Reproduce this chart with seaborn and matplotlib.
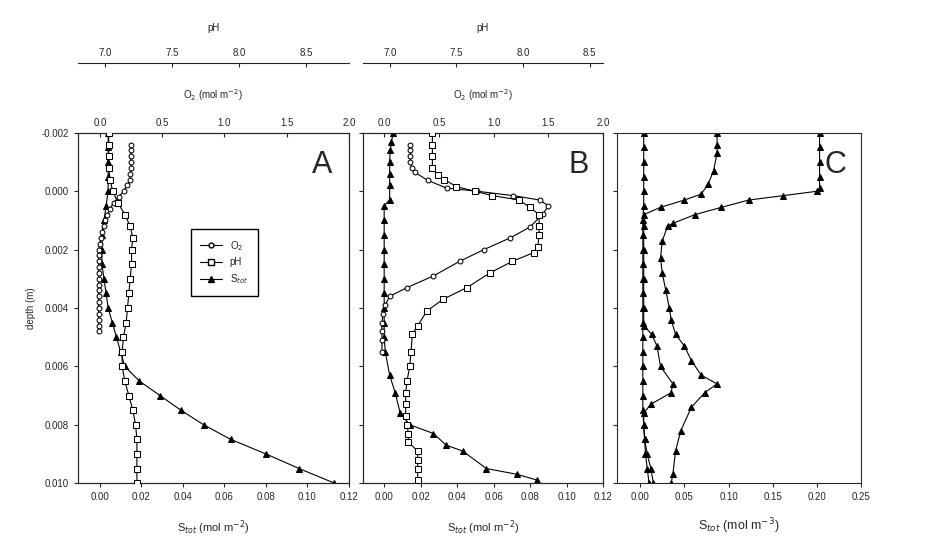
import matplotlib
matplotlib.use('Agg')
import matplotlib.pyplot as plt
from matplotlib.lines import Line2D
from matplotlib.ticker import FormatStrFormatter
import seaborn as sns

sns.set_style('ticks')
plt.rcParams['font.family'] = ['Liberation Sans', 'DejaVu Sans']

# ---- panel A ----
a_o2_depth = [-0.0016, -0.0014, -0.0012, -0.001, -0.0008, -0.0006, -0.0004, -0.0002, 0.0, 0.0002,
              0.0004, 0.0006, 0.0008, 0.001, 0.0012, 0.0014, 0.0016, 0.0018, 0.002, 0.0022,
              0.0024, 0.0026, 0.0028, 0.003, 0.0032, 0.0034, 0.0036, 0.0038, 0.004, 0.0042,
              0.0044, 0.0046, 0.0048]
a_o2 = [0.25, 0.25, 0.25, 0.25, 0.25, 0.245, 0.24, 0.22, 0.19, 0.15,
        0.11, 0.08, 0.06, 0.04, 0.03, 0.02, 0.01, 0.0, -0.01, -0.01,
        -0.01, -0.01, -0.01, -0.01, -0.01, -0.01, -0.01, -0.01, -0.01, -0.01,
        -0.01, -0.01, -0.01]
a_ph_depth = [-0.002, -0.0016, -0.0012, -0.0008, -0.0004, 0.0, 0.0004, 0.0008, 0.0012, 0.0016,
              0.002, 0.0025, 0.003, 0.0035, 0.004, 0.0045, 0.005, 0.0055, 0.006, 0.0065,
              0.007, 0.0075, 0.008, 0.0085, 0.009, 0.0095, 0.010]
a_ph = [7.03, 7.03, 7.03, 7.03, 7.04, 7.06, 7.10, 7.15, 7.19, 7.21,
        7.20, 7.20, 7.19, 7.18, 7.17, 7.16, 7.14, 7.13, 7.13, 7.15,
        7.18, 7.21, 7.23, 7.24, 7.24, 7.24, 7.24]
a_s_depth = [-0.002, -0.0015, -0.001, -0.0005, 0.0, 0.0005, 0.001, 0.0015, 0.002, 0.0025,
             0.003, 0.0035, 0.004, 0.0045, 0.005, 0.0055, 0.006, 0.0065, 0.007, 0.0075,
             0.008, 0.0085, 0.009, 0.0095, 0.010]
a_s = [0.004, 0.004, 0.004, 0.004, 0.004, 0.003, 0.002, 0.001, 0.001, 0.001,
       0.002, 0.003, 0.004, 0.006, 0.008, 0.010, 0.012, 0.019, 0.029, 0.039,
       0.050, 0.063, 0.080, 0.096, 0.113]

# ---- panel B ----
b_o2_depth = [-0.0016, -0.0014, -0.0012, -0.001, -0.0008, -0.00065, -0.00037, -0.00011, 0.0, 0.00015,
              0.0003, 0.0005, 0.00078, 0.00123, 0.0016, 0.002, 0.0024, 0.0029, 0.0033, 0.0036,
              0.0039, 0.0042, 0.0045, 0.0048, 0.0051, 0.0055]
b_o2 = [0.24, 0.24, 0.24, 0.24, 0.25, 0.28, 0.40, 0.57, 0.85, 1.18,
        1.42, 1.50, 1.45, 1.33, 1.15, 0.91, 0.69, 0.45, 0.21, 0.05,
        0.01, -0.01, -0.02, -0.02, -0.02, -0.02]
b_ph_depth = [-0.002, -0.0016, -0.0012, -0.0008, -0.00054, -0.0004, -0.00016, 0.0, 0.00015, 0.0003,
              0.00055, 0.0008, 0.0012, 0.0015, 0.0019, 0.0021, 0.0024, 0.0028, 0.0033, 0.0037,
              0.0041, 0.0046, 0.0049, 0.0055, 0.006, 0.0065, 0.0069, 0.0073, 0.0077, 0.008,
              0.0083, 0.0086, 0.0089, 0.0092, 0.0095, 0.0099]
b_ph = [7.32, 7.32, 7.32, 7.32, 7.36, 7.41, 7.50, 7.64, 7.77, 7.97,
        8.05, 8.12, 8.12, 8.12, 8.11, 8.08, 7.92, 7.75, 7.58, 7.40,
        7.28, 7.21, 7.17, 7.16, 7.15, 7.13, 7.12, 7.12, 7.12, 7.13,
        7.14, 7.14, 7.21, 7.21, 7.21, 7.21]
b_s_depth = [-0.002, -0.0017, -0.0014, -0.001, -0.0006, -0.0002, 0.0003, 0.0005, 0.001, 0.0015,
             0.002, 0.0025, 0.003, 0.0035, 0.004, 0.0045, 0.005, 0.0055, 0.0063, 0.0069,
             0.0076, 0.008, 0.0083, 0.0087, 0.0089, 0.0095, 0.0097, 0.0099]
b_s = [0.005, 0.004, 0.0033, 0.003, 0.003, 0.003, 0.003, 0.0, 0.0, 0.0,
       0.0, 0.0, 0.0, 0.0, 0.0, 0.0, 0.0, 0.0006, 0.003, 0.006,
       0.0088, 0.014, 0.027, 0.034, 0.043, 0.056, 0.073, 0.084]

# ---- panel C ----
c1_depth = [-0.002, -0.0015, -0.001, -0.0005, 0.0, 0.0005, 0.001, 0.0015, 0.002, 0.0025,
            0.003, 0.0035, 0.004, 0.0045, 0.005, 0.0055, 0.006, 0.0065, 0.007, 0.0075,
            0.008, 0.0085, 0.009, 0.0095, 0.010]
c1_s = [0.004, 0.004, 0.004, 0.004, 0.004, 0.004, 0.003, 0.003, 0.003, 0.003,
        0.003, 0.003, 0.003, 0.003, 0.003, 0.003, 0.003, 0.003, 0.003, 0.003,
        0.004, 0.005, 0.008, 0.012, 0.015]
c2_depth = [-0.002, -0.0016, -0.0013, -0.0007, -0.00025, 0.0001, 0.0003, 0.00055, 0.0008, 0.0012,
            0.002, 0.003, 0.004, 0.0046, 0.0049, 0.0053, 0.006, 0.0066, 0.0069, 0.0073,
            0.0076, 0.008, 0.0085, 0.009, 0.0095, 0.010]
c2_s = [0.087, 0.087, 0.087, 0.083, 0.077, 0.069, 0.050, 0.023, 0.004, 0.004,
        0.004, 0.004, 0.004, 0.004, 0.013, 0.019, 0.023, 0.037, 0.035, 0.012,
        0.004, 0.004, 0.005, 0.006, 0.008, 0.010]
c3_depth = [-0.002, -0.0015, -0.001, -0.0005, -0.0001, 0.0, 0.00015, 0.0003, 0.00055, 0.0008,
            0.0011, 0.0012, 0.0017, 0.0023, 0.0028, 0.0034, 0.004, 0.0044, 0.0049, 0.0053,
            0.0058, 0.0063, 0.0066, 0.0069, 0.0074, 0.0082, 0.0089, 0.0097, 0.010]
c3_s = [0.203, 0.203, 0.203, 0.203, 0.203, 0.200, 0.162, 0.123, 0.092, 0.062,
        0.037, 0.031, 0.025, 0.023, 0.025, 0.029, 0.033, 0.035, 0.040, 0.050,
        0.058, 0.069, 0.087, 0.073, 0.058, 0.046, 0.040, 0.037, 0.035]

circ = dict(marker='o', markerfacecolor='white', markeredgecolor='black', markersize=3.5)
sq = dict(marker='s', markerfacecolor='white', markeredgecolor='black', markersize=5)
tri = dict(marker='^', markerfacecolor='black', markeredgecolor='black', markersize=5)


def prof(ax, x, y, style):
    sns.lineplot(x=x, y=y, ax=ax, sort=False, estimator=None, orient='y',
                 color='black', linewidth=0.8, **style)


fs = 7
fig = plt.figure(figsize=(9.38, 5.38), dpi=100)
axA = fig.add_axes([0.083, 0.102, 0.289, 0.651])
axB = fig.add_axes([0.387, 0.102, 0.256, 0.651])
axC = fig.add_axes([0.658, 0.102, 0.260, 0.651])

twins = {}
for ax, o2l, phl in [(axA, (-0.177, 2.0), (6.8, 8.82)), (axB, (-0.193, 2.0), (6.8, 8.6))]:
    twins[ax] = (ax.twiny(), ax.twiny())

# panel A
prof(twins[axA][0], a_o2, a_o2_depth, circ)
prof(twins[axA][1], a_ph, a_ph_depth, sq)
prof(axA, a_s, a_s_depth, tri)
# panel B
prof(twins[axB][0], b_o2, b_o2_depth, circ)
prof(twins[axB][1], b_ph, b_ph_depth, sq)
prof(axB, b_s, b_s_depth, tri)
# panel C
prof(axC, c1_s, c1_depth, tri)
prof(axC, c2_s, c2_depth, tri)
prof(axC, c3_s, c3_depth, tri)

for ax, xl in [(axA, (-0.0106, 0.12)), (axB, (-0.0116, 0.12)), (axC, (-0.026, 0.25))]:
    ax.set_ylim(0.010, -0.002)
    ax.set_xlim(*xl)
    ax.tick_params(labelsize=fs, direction='out', length=3)
    ax.set_yticks([-0.002, 0.0, 0.002, 0.004, 0.006, 0.008, 0.010])
    ax.yaxis.set_major_formatter(FormatStrFormatter('%.3f'))
    ax.set_ylabel('')

for ax in (axA, axB):
    ax.set_xticks([0.0, 0.02, 0.04, 0.06, 0.08, 0.10, 0.12])
    ax.xaxis.set_major_formatter(FormatStrFormatter('%.2f'))
    ax.set_xlabel('S$_{tot}$ (mol m$^{-2}$)', fontsize=fs + 1, labelpad=12)
axC.set_xticks([0.0, 0.05, 0.10, 0.15, 0.20, 0.25])
axC.xaxis.set_major_formatter(FormatStrFormatter('%.2f'))
axC.set_xlabel('S$_{tot}$ (mol m$^{-3}$)', fontsize=fs + 2, labelpad=10)
axB.set_yticklabels([])
axC.set_yticklabels([])
axA.set_ylabel('depth (m)', fontsize=fs)

for ax, o2l, phl in [(axA, (-0.177, 2.0), (6.8, 8.82)), (axB, (-0.193, 2.0), (6.8, 8.6))]:
    ax_o2, ax_ph = twins[ax]
    ax_o2.set_xlim(*o2l)
    ax_o2.set_xticks([0.0, 0.5, 1.0, 1.5, 2.0])
    ax_o2.xaxis.set_major_formatter(FormatStrFormatter('%.1f'))
    ax_o2.tick_params(labelsize=fs, direction='in', length=3)
    ax_o2.set_xlabel('O$_2$ (mol m$^{-2}$)', fontsize=fs, labelpad=14)
    ax_ph.set_xlim(*phl)
    ax_ph.set_xticks([7.0, 7.5, 8.0, 8.5])
    ax_ph.xaxis.set_major_formatter(FormatStrFormatter('%.1f'))
    ax_ph.spines['top'].set_position(('axes', 1.2))
    for s in ('left', 'right', 'bottom'):
        ax_ph.spines[s].set_visible(False)
    ax_ph.tick_params(labelsize=fs, direction='in', length=3)
    ax_ph.set_xlabel('pH', fontsize=fs, labelpad=12)
    for t in (ax_o2, ax_ph):
        t.set_ylim(0.010, -0.002)
        t.set_ylabel('')

for ax, letter in [(axA, 'A'), (axB, 'B'), (axC, 'C')]:
    ax.text(0.94, 0.95, letter, transform=ax.transAxes, fontsize=22,
            ha='right', va='top')

handles = [Line2D([], [], color='black', lw=0.8, **circ),
           Line2D([], [], color='black', lw=0.8, **sq),
           Line2D([], [], color='black', lw=0.8, **tri)]
twins[axA][1].legend(handles, ['O$_2$', 'pH', 'S$_{tot}$'], loc='center',
                     bbox_to_anchor=(0.54, 0.63), fontsize=fs, fancybox=False,
                     edgecolor='black', framealpha=1, borderpad=1.0, handlelength=2.2)

fig.savefig('out.png', dpi=100)
